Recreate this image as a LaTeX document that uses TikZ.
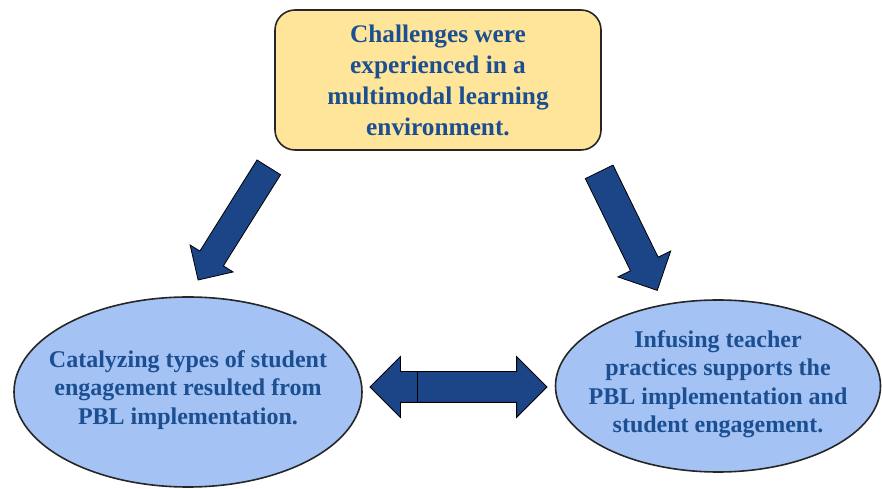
\documentclass[tikz,border=0pt]{standalone}
\usepackage{fontspec}
\setmainfont{Liberation Serif}
\usetikzlibrary{shapes.geometric,shapes.arrows}

\definecolor{boxyellow}{HTML}{FFE599}
\definecolor{ovalblue}{HTML}{A4C2F4}
\definecolor{arrowblue}{HTML}{1C4587}
\definecolor{textblue}{HTML}{1B4F91}

\begin{document}
\begin{tikzpicture}[
  x=1pt, y=1pt,
  outline/.style={draw=black!85, line width=1.6pt},
  topbox/.style={outline, rounded corners=20pt, fill=boxyellow, minimum width=326pt, minimum height=140pt, align=center, text=textblue, font=\fontsize{25.3}{31}\selectfont\bfseries},
  oval/.style={outline, ellipse, fill=ovalblue, inner sep=0pt},
  ovaltext/.style={align=center, text=textblue, font=\fontsize{24}{28.5}\selectfont\bfseries},
  fatarrow/.style={draw=black, line width=0.8pt, fill=arrowblue, inner xsep=0pt}
]
\useasboundingbox (0,0) rectangle (882,489);

% the three themes
\node[topbox] (chal) at (438,409) {Challenges were\\experienced in a\\multimodal learning\\environment.};
\node[oval, minimum width=348pt, minimum height=190pt] (eng) at (188,97) {};
\node[ovaltext] (engtext) at ([yshift=2pt]eng.center) {Catalyzing types of student\\engagement resulted from\\PBL implementation.};
\node[oval, minimum width=325pt, minimum height=172pt] (prac) at (718,103) {};
\node[ovaltext] (practext) at ([yshift=2pt]prac.center) {Infusing teacher\\practices supports the\\PBL implementation and\\student engagement.};

% block arrows between them
\node[fatarrow, single arrow, minimum height=133pt, inner ysep=13.5pt, single arrow head extend=11.5pt, rotate=237.9, anchor=tail] (toeng) at (269,322) {};
\node[fatarrow, single arrow, minimum height=132pt, inner ysep=15pt, single arrow head extend=14pt, rotate=296.1, anchor=tail] (toprac) at (599,317.5) {};
\node[fatarrow, double arrow, minimum height=177pt, inner ysep=15pt, double arrow head extend=15pt] (link) at (458.5,102) {};
\draw[line width=1pt] ([xshift=48pt,yshift=-15pt]link.west) -- ([xshift=48pt,yshift=15pt]link.west);
\end{tikzpicture}
\end{document}
